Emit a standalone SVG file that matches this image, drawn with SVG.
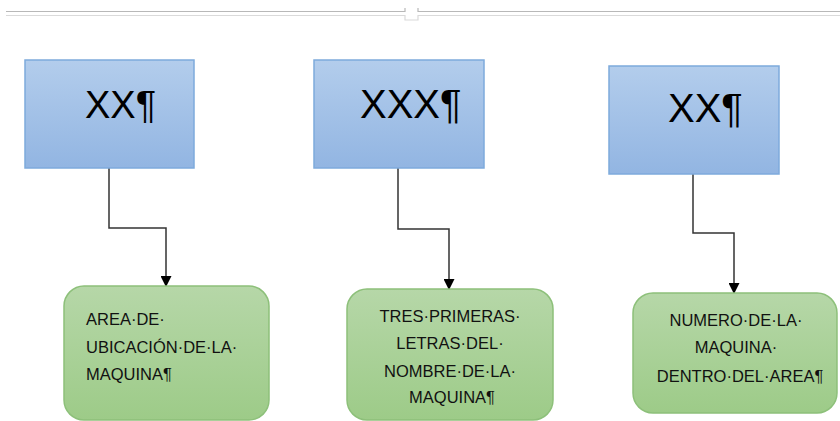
<svg xmlns="http://www.w3.org/2000/svg" width="840" height="421" viewBox="0 0 840 421">
<defs>
<linearGradient id="gBlue" x1="0" y1="0" x2="0" y2="1">
<stop offset="0" stop-color="#b3cdec"/>
<stop offset="1" stop-color="#92b5e2"/>
</linearGradient>
<linearGradient id="gGreen" x1="0" y1="0" x2="0" y2="1">
<stop offset="0" stop-color="#b6d7a8"/>
<stop offset="1" stop-color="#9dcb88"/>
</linearGradient>
<marker id="arr" markerWidth="11" markerHeight="11" refX="10" refY="5.5" orient="auto" markerUnits="userSpaceOnUse">
<path d="M0,0 L11,5.5 L0,11 Z" fill="#000"/>
</marker>
<style>
.blue{fill:url(#gBlue);stroke:#7eaadc;stroke-width:1.5}
.green{fill:url(#gGreen);stroke:#8dc07a;stroke-width:1.5}
.big{font-family:"Liberation Sans",Arial,sans-serif;fill:#000}
.small{font-family:"Liberation Sans",Arial,sans-serif;font-size:16.5px;fill:#111}
.conn{fill:none;stroke:#333;stroke-width:1.5}
.rule{fill:none;stroke:#b8b8b8;stroke-width:1.2}
.rule2{fill:none;stroke:#dadada;stroke-width:1.2}
</style>
</defs>
<rect width="840" height="421" fill="#fff"/>
<g id="ruler">
<path class="rule" d="M6,11.5 H405 V8 M418,8 V11.5 H840"/>
<path class="rule2" d="M6,15.5 H405 V20 H418 V15.5 H840"/>
</g>
<g id="connectors">
<path class="conn" d="M109,168 V228 H166 V286" marker-end="url(#arr)"/>
<path class="conn" d="M398,168 V229 H449 V289" marker-end="url(#arr)"/>
<path class="conn" d="M693,174 V233 H734 V293" marker-end="url(#arr)"/>
</g>
<g id="top1">
<rect class="blue" x="25" y="60" width="169" height="108"/>
<text class="big" x="85" y="118" font-size="38">XX¶</text>
</g>
<g id="top2">
<rect class="blue" x="314" y="60" width="170" height="108"/>
<text class="big" x="360" y="118" font-size="40">XXX¶</text>
</g>
<g id="top3">
<rect class="blue" x="609" y="66" width="170" height="108"/>
<text class="big" x="668" y="122" font-size="40">XX¶</text>
</g>
<g id="bottom1">
<rect class="green" x="64" y="286" width="205" height="134" rx="20" ry="20"/>
<text class="small" x="86" y="325">AREA·DE·</text>
<text class="small" x="86" y="353">UBICACIÓN·DE·LA·</text>
<text class="small" x="86" y="380">MAQUINA¶</text>
</g>
<g id="bottom2">
<rect class="green" x="347" y="289" width="206" height="131" rx="20" ry="20"/>
<text class="small" x="450" y="322" text-anchor="middle">TRES·PRIMERAS·</text>
<text class="small" x="450" y="349" text-anchor="middle">LETRAS·DEL·</text>
<text class="small" x="450" y="377" text-anchor="middle">NOMBRE·DE·LA·</text>
<text class="small" x="452" y="403" text-anchor="middle">MAQUINA¶</text>
</g>
<g id="bottom3">
<rect class="green" x="633" y="293" width="204" height="120" rx="20" ry="20"/>
<text class="small" x="736" y="326" text-anchor="middle">NUMERO·DE·LA·</text>
<text class="small" x="736" y="353" text-anchor="middle">MAQUINA·</text>
<text class="small" x="740" y="382" text-anchor="middle">DENTRO·DEL·AREA¶</text>
</g>
</svg>
